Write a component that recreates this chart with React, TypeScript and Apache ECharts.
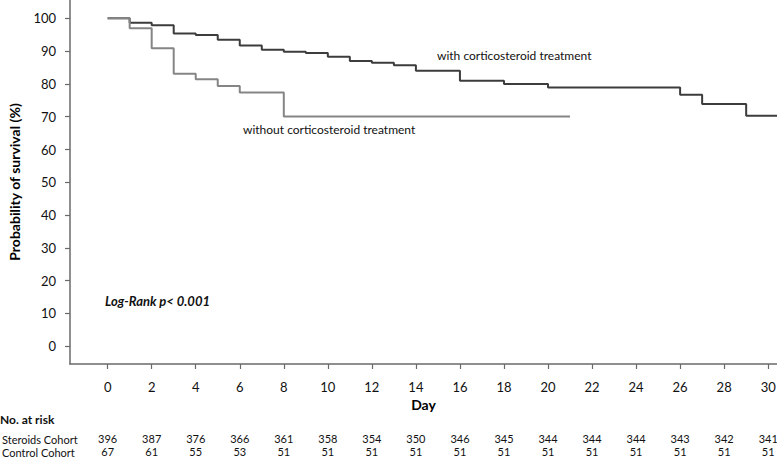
import React, { useEffect, useRef } from "react";
import * as echarts from "echarts";

const steroidDays = [0, 1, 2, 3, 4, 5, 6, 7, 8, 9, 10, 11, 12, 13, 14, 16, 18, 20, 26, 27, 29, 30.5];
const steroidSurv = [100, 98.7, 97.9, 95.4, 94.9, 93.5, 91.7, 90.4, 89.8, 89.4, 88.3, 87.0, 86.5, 85.7, 84.0, 81.0, 80.0, 78.9, 76.7, 73.9, 70.3, 70.3];
const controlDays = [0, 1, 2, 3, 4, 5, 6, 8, 21];
const controlSurv = [100, 97.0, 90.9, 83.1, 81.4, 79.4, 77.4, 70.1, 70.1];

const dayTicks = [0, 2, 4, 6, 8, 10, 12, 14, 16, 18, 20, 22, 24, 26, 28, 30];
const yTicks = [0, 10, 20, 30, 40, 50, 60, 70, 80, 90, 100];
const steroidAtRisk = [396, 387, 376, 366, 361, 358, 354, 350, 346, 345, 344, 344, 344, 343, 342, 341];
const controlAtRisk = [67, 61, 55, 53, 51, 51, 51, 51, 51, 51, 51, 51, 51, 51, 51, 51];

const FONT = "Lato";

export default function App() {
  const ref = useRef<HTMLDivElement>(null);
  useEffect(() => {
    if (!ref.current) return;
    const chart = echarts.init(ref.current, undefined, { renderer: "svg" });
    const riskAxis = (vals: number[], offset: number) => ({
      type: "value",
      position: "bottom",
      min: -1.71,
      max: 30.4,
      offset,
      axisLine: { show: false, onZero: false },
      axisTick: { show: false },
      splitLine: { show: false },
      axisLabel: {
        customValues: dayTicks,
        margin: 6,
        fontFamily: FONT,
        fontSize: 11,
        color: "#111",
        formatter: (v: number) => {
          const i = dayTicks.indexOf(Math.round(v));
          return i >= 0 ? String(vals[i]) : "";
        },
      },
    });
    chart.setOption({
      animation: false,
      grid: { left: 70, right: 0, top: 0, height: 364, containLabel: false, outerBoundsMode: "none" },
      xAxis: [
        {
          type: "value",
          position: "bottom",
          min: -1.71,
          max: 30.4,
          name: "Day",
          nameLocation: "middle",
          nameGap: 29,
          nameTextStyle: { fontFamily: FONT, fontSize: 14, fontWeight: "bold", color: "#000" },
          axisLine: { onZero: false, lineStyle: { color: "#6a6a6a", width: 1.5 } },
          axisTick: { show: true, customValues: dayTicks, length: 5, lineStyle: { color: "#6a6a6a", width: 1.2 } },
          splitLine: { show: false },
          axisLabel: { customValues: dayTicks, margin: 16, fontFamily: FONT, fontSize: 13, color: "#111" },
        },
        riskAxis(steroidAtRisk, 63),
        riskAxis(controlAtRisk, 76),
      ],
      yAxis: {
        type: "value",
        position: "left",
        min: -5.4,
        max: 105.6,
        name: "Probability of survival (%)",
        nameLocation: "middle",
        nameGap: 49,
        nameTextStyle: { fontFamily: FONT, fontSize: 14, fontWeight: "bold", color: "#000" },
        axisLine: { show: true, onZero: false, lineStyle: { color: "#6a6a6a", width: 1.5 } },
        axisTick: { show: true, customValues: yTicks, length: 5, lineStyle: { color: "#6a6a6a", width: 1.2 } },
        splitLine: { show: false },
        axisLabel: { customValues: yTicks, margin: 14, fontFamily: FONT, fontSize: 13, color: "#111" },
      },
      series: [
        {
          type: "line",
          step: "end",
          symbol: "none",
          data: steroidDays.map((d, i) => [d, steroidSurv[i]]),
          lineStyle: { color: "#3c3c3c", width: 2 },
        },
        {
          type: "line",
          step: "end",
          symbol: "none",
          data: controlDays.map((d, i) => [d, controlSurv[i]]),
          lineStyle: { color: "#858585", width: 2 },
        },
      ],
      graphic: [
        { type: "text", left: 437, top: 49, style: { text: "with corticosteroid treatment", font: `12px ${FONT}`, fill: "#111" } },
        { type: "text", left: 243, top: 123, style: { text: "without corticosteroid treatment", font: `12px ${FONT}`, fill: "#111" } },
        { type: "text", left: 105, top: 294, style: { text: "Log-Rank p< 0.001", font: `italic bold 13px ${FONT}`, fill: "#111" } },
        { type: "text", left: 0, top: 413, style: { text: "No. at risk", font: `bold 12px ${FONT}`, fill: "#111" } },
        { type: "text", left: 2, top: 434, style: { text: "Steroids Cohort", font: `11px ${FONT}`, fill: "#111" } },
        { type: "text", left: 2, top: 447, style: { text: "Control Cohort", font: `11px ${FONT}`, fill: "#111" } },
      ],
    });
    return () => chart.dispose();
  }, []);
  return <div ref={ref} style={{ width: 777, height: 459, position: "absolute", left: 0, top: 0 }} />;
}
